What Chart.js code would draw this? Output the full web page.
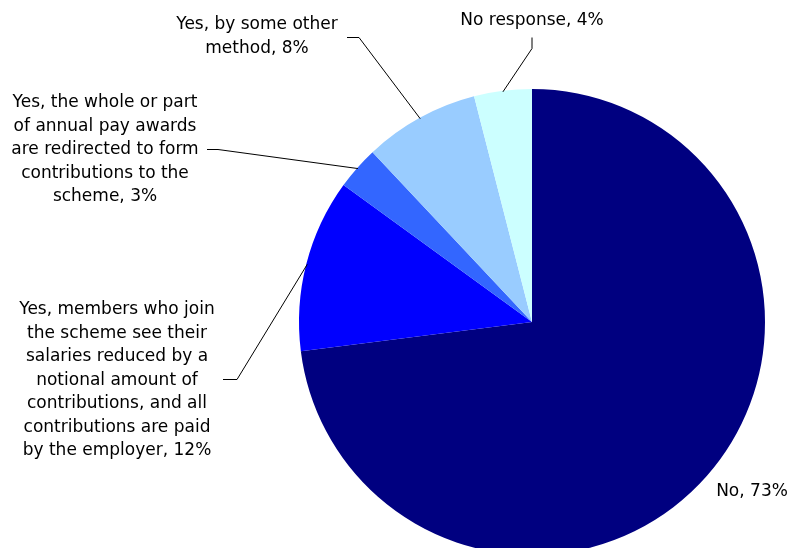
<!DOCTYPE html>
<html>
<head>
<meta charset="utf-8">
<style>
  html, body { margin: 0; padding: 0; background: #fff; overflow: hidden; }
  #wrap { width: 788px; height: 548px; }
</style>
</head>
<body>
<div id="wrap">
  <canvas id="pieChart" width="788" height="548"></canvas>
</div>

<script src="https://cdn.jsdelivr.net/npm/chart.js"></script>
<script>
  // answers, clockwise from 12 o'clock (label lines, percentage appended)
  const categories = [
    ['No'],
    ['Yes, members who join', 'the scheme see their', 'salaries reduced by a',
     'notional amount of', 'contributions, and all', 'contributions are paid',
     'by the employer'],
    ['Yes, the whole or part', 'of annual pay awards', 'are redirected to form',
     'contributions to the', 'scheme'],
    ['Yes, by some other', 'method'],
    ['No response']
  ];
  const percents = [73, 12, 3, 8, 4];
  const sliceColors = ['#000080', '#0000FF', '#3366FF', '#99CCFF', '#CCFFFF'];

  // where each label sits (centre of first line) and the bend of its leader line
  const labelSpots = [
    { x: 752, y: 492, elbow: null },
    { x: 117, y: 310, elbow: [[223, 379], [237, 379]] },
    { x: 105, y: 103, elbow: [[207, 149], [218, 149]] },
    { x: 257, y: 25,  elbow: [[347, 37], [359, 37]] },
    { x: 532, y: 21,  elbow: [[532, 37], [532, 48]] }
  ];
  const LINE_H = 23.5;

  const labelText = categories.map((lines, i) => {
    const out = lines.slice();
    out[out.length - 1] = out[out.length - 1] + ', ' + percents[i] + '%';
    return out;
  });

  const outsideLabels = {
    id: 'outsideLabels',
    afterDatasetsDraw(chart) {
      const c = chart.ctx;
      const arcs = chart.getDatasetMeta(0).data;
      c.save();
      // leader lines
      c.strokeStyle = '#000';
      c.lineWidth = 1;
      arcs.forEach((arc, i) => {
        const spot = labelSpots[i];
        if (!spot.elbow) return;
        const p = arc.getProps(['x', 'y', 'startAngle', 'endAngle', 'outerRadius'], true);
        const mid = (p.startAngle + p.endAngle) / 2;
        const ax = p.x + Math.cos(mid) * (p.outerRadius - 1);
        const ay = p.y + Math.sin(mid) * (p.outerRadius - 1);
        c.beginPath();
        c.moveTo(spot.elbow[0][0], spot.elbow[0][1] + 0.5);
        c.lineTo(spot.elbow[1][0], spot.elbow[1][1] + 0.5);
        c.lineTo(ax, ay);
        c.stroke();
      });
      // label text
      c.fillStyle = '#000';
      c.font = '17px "DejaVu Sans", sans-serif';
      c.textAlign = 'center';
      c.textBaseline = 'middle';
      labelText.forEach((lines, i) => {
        const spot = labelSpots[i];
        lines.forEach((ln, k) => c.fillText(ln, spot.x, spot.y + k * LINE_H));
      });
      c.restore();
    }
  };

  const ctx = document.getElementById('pieChart');
  const pieChart = new Chart(ctx, {
    type: 'pie',
    data: {
      labels: labelText,
      datasets: [{
        data: percents,
        backgroundColor: sliceColors,
        borderWidth: 0,
        radius: 233
      }]
    },
    options: {
      responsive: false,
      animation: false,
      layout: { padding: { left: 300, right: 24, top: 100, bottom: 4 } },
      plugins: {
        legend: { display: false },
        tooltip: { enabled: false }
      }
    },
    plugins: [outsideLabels]
  });
</script>
</body>
</html>
